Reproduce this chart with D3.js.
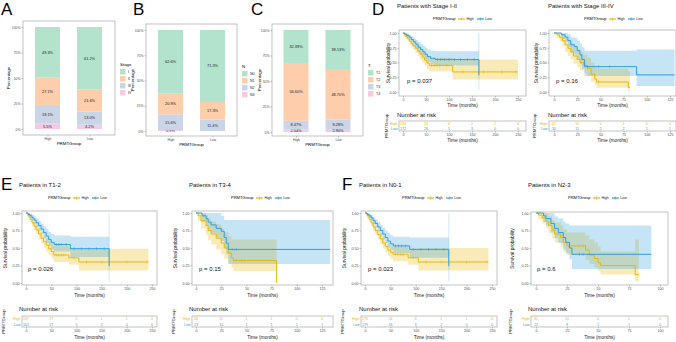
<!DOCTYPE html>
<html>
<head>
<meta charset="utf-8">
<script src="https://cdn.jsdelivr.net/npm/d3@7"></script>
<style>
  body { margin: 0; background: #fff; }
  text { font-family: "Liberation Sans", Arial, sans-serif; }
</style>
</head>
<body>
<div id="chart"></div>
<script>
// ---- data ----
const groups = ['High', 'Low'];
const groupColors = ['#E7B800', '#2E9FDF'];
const pastel = ['#B3E2CD', '#FDCDAC', '#CBD5E8', '#F4CAE4'];

// panel A
const stageLevels = ['I', 'II', 'III', 'IV'];
const stageHigh = [49.3, 27.1, 18.1, 5.5];
const stageLow = [61.2, 21.6, 13.0, 4.2];
// panel B
const nLevels = ['N0', 'N1', 'N2', 'N3'];
const bHigh = [62.6, 20.9, 15.6, 0.9];
const bLow = [71.3, 17.3, 11.4, 0];
// panel C
const tLevels = ['T1', 'T2', 'T3', 'T4'];
const cHigh = [32.39, 56.60, 8.47, 2.54];
const cLow = [39.13, 48.70, 9.28, 2.90];

const pctTicks = [0, 25, 50, 75, 100];
const survTicks = [0, 0.25, 0.5, 0.75, 1];
const longTicks = [0, 50, 100, 150, 200, 250];
const ticks125 = [0, 25, 50, 75, 100, 125];
const ticks100 = [0, 25, 50, 75, 100];

// KM steps: [time, survival, lower, upper]
const d1High = [[0,1,1,1],[3,.97,.94,1],[6,.94,.9,.98],[10,.9,.85,.95],[14,.86,.8,.92],[18,.82,.76,.89],[22,.78,.71,.86],[27,.74,.66,.82],[32,.69,.61,.78],[37,.64,.55,.74],[42,.59,.5,.7],[47,.54,.45,.66],[52,.49,.39,.61],[57,.45,.35,.58],[108,.34,.21,.55]];
const d1HighEnd = 250;
const d1HighCens = [62, 68, 74, 80, 95, 130, 175, 215, 245];
const d1Low = [[0,1,1,1],[4,.98,.96,1],[8,.96,.93,.99],[13,.93,.89,.97],[18,.89,.84,.94],[23,.85,.79,.91],[28,.81,.74,.88],[33,.76,.69,.85],[38,.72,.64,.81],[43,.68,.6,.78],[48,.64,.55,.75],[53,.6,.51,.72],[60,.57,.47,.7],[70,.55,.45,.69],[165,.28,.03,1]];
const d1LowEnd = 165;
const d1LowCens = [75, 82, 90, 100, 112, 125, 140, 155];

const d2High = [[0,1,1,1],[3,.97,.91,1],[6,.93,.85,1],[9,.87,.77,.98],[12,.8,.68,.93],[15,.74,.61,.89],[18,.68,.55,.84],[21,.61,.48,.78],[25,.55,.42,.73],[28,.5,.37,.68],[32,.45,.32,.63],[36,.4,.27,.58],[40,.3,.18,.5],[44,.22,.12,.43],[46,.17,.07,.4],[80,.08,.01,.35]];
const d2HighEnd = 82;
const d2HighCens = [34, 48];
const d2Low = [[0,1,1,1],[8,.97,.9,1],[12,.93,.85,1],[15,.87,.76,.98],[18,.8,.67,.93],[22,.77,.63,.92],[25,.7,.55,.87],[28,.63,.47,.82],[30,.55,.39,.76],[33,.43,.27,.7],[89,.29,.1,.72]];
const d2LowEnd = 130;
const d2LowCens = [36, 48, 60];

const e1High = [[0,1,1,1],[4,.96,.93,.99],[8,.91,.87,.95],[12,.86,.81,.91],[16,.81,.75,.87],[20,.76,.7,.83],[25,.7,.63,.78],[30,.64,.56,.73],[35,.59,.5,.68],[40,.54,.45,.64],[45,.49,.4,.6],[50,.45,.35,.56],[55,.4,.3,.53],[85,.36,.26,.5],[105,.3,.18,.49]];
const e1HighEnd = 243;
const e1HighCens = [60, 65, 70, 75, 95, 120, 150, 200, 240];
const e1Low = [[0,1,1,1],[4,.98,.96,1],[8,.96,.93,.99],[12,.93,.89,.97],[16,.9,.85,.95],[20,.86,.8,.92],[25,.82,.75,.89],[30,.77,.7,.85],[35,.72,.64,.81],[40,.67,.58,.77],[45,.62,.53,.73],[50,.58,.48,.7],[56,.55,.45,.68],[88,.49,.37,.66],[165,.24,.02,1]];
const e1LowEnd = 165;
const e1LowCens = [60, 65, 70, 80, 95, 110, 125, 140, 155];

const e2High = [[0,1,1,1],[2,.96,.89,1],[5,.89,.78,1],[10,.82,.69,.97],[12,.75,.61,.92],[15,.7,.55,.88],[20,.64,.48,.84],[25,.57,.41,.78],[28,.5,.35,.73],[32,.43,.28,.67],[35,.36,.22,.62],[37,.32,.17,.62],[80,0,0,0]];
const e2HighEnd = 80;
const e2HighCens = [40, 45, 48];
const e2Low = [[0,1,1,1],[6,.96,.88,1],[10,.92,.82,1],[12,.87,.76,1],[15,.83,.71,1],[20,.78,.65,1],[25,.74,.6,.96],[28,.65,.5,.9],[30,.57,.41,.9],[32,.48,.27,.9]];
const e2LowEnd = 133;
const e2LowCens = [36, 40];

const f1High = [[0,1,1,1],[4,.96,.93,.99],[8,.91,.87,.95],[12,.86,.81,.91],[16,.8,.74,.86],[20,.75,.69,.81],[25,.69,.62,.76],[30,.63,.56,.71],[35,.57,.49,.66],[40,.52,.44,.61],[45,.47,.39,.57],[50,.44,.35,.54],[55,.41,.31,.52],[85,.36,.26,.49],[105,.3,.18,.5]];
const f1HighEnd = 243;
const f1HighCens = [60, 65, 70, 75, 95, 120, 150, 200, 240];
const f1Low = [[0,1,1,1],[4,.98,.96,1],[8,.96,.93,.99],[12,.93,.89,.97],[16,.89,.84,.94],[20,.85,.79,.91],[25,.8,.74,.87],[30,.75,.68,.83],[35,.7,.62,.79],[40,.65,.57,.75],[45,.6,.51,.71],[50,.56,.47,.68],[56,.53,.43,.66],[88,.48,.36,.65],[165,.24,.02,1]];
const f1LowEnd = 165;
const f1LowCens = [60, 66, 72, 80, 95, 110, 125, 140, 155];

const f2High = [[0,1,1,1],[2,.97,.91,1],[5,.93,.85,1],[8,.88,.78,.99],[10,.82,.71,.95],[13,.76,.64,.9],[15,.7,.58,.86],[20,.65,.52,.82],[22,.58,.45,.76],[25,.53,.4,.72],[40,.47,.33,.68],[43,.4,.27,.62],[47,.35,.22,.58],[50,.29,.17,.52],[52,.25,.12,.45],[80,.12,.03,.62]];
const f2HighEnd = 83;
const f2HighCens = [35, 38];
const f2Low = [[0,1,1,1],[6,.96,.87,1],[8,.92,.82,1],[12,.85,.72,1],[15,.78,.64,.95],[18,.72,.57,.92],[22,.65,.49,.88],[24,.58,.42,.85],[27,.5,.34,.82],[29,.41,.2,.82]];
const f2LowEnd = 93;
const f2LowCens = [35, 38];

// numbers at risk
const d1RiskHigh = [134, 24, 6, 1, 1, 0], d1RiskLow = [172, 26, 5, 3, 0, 0];
const d2RiskHigh = [31, 10, 1, 1, 0, 0], d2RiskLow = [30, 11, 2, 2, 1, 1];
const e1RiskHigh = [167, 27, 5, 1, 1, 0], e1RiskLow = [162, 27, 5, 2, 0, 0];
const e2RiskHigh = [28, 11, 1, 1, 0, 0], e2RiskLow = [23, 10, 1, 1, 1, 1];
const f1RiskHigh = [176, 24, 6, 1, 1, 0], f1RiskLow = [179, 26, 6, 2, 0, 0];
const f2RiskHigh = [35, 14, 4, 2, 0], f2RiskLow = [22, 8, 1, 1, 0];

// ---- drawing ----
const W = 676, H = 342;
const svg = d3.select('#chart').append('svg')
    .attr('width', W).attr('height', H)
    .style('display', 'block').style('background', '#fff');

const TICK_GREY = '#4d4d4d';
const BOX_GREY = '#b3b3b3';

function panelLetter(txt, x, y) {
    svg.append('text').attr('x', x).attr('y', y)
        .attr('font-size', 17).attr('fill', '#000').text(txt);
}

function drawBars(cfg) {
    const g = svg.append('g');
    const x = d3.scalePoint().domain(groups).range(cfg.centers);
    const y = d3.scaleLinear().domain([0, 100]).range([cfg.y0, cfg.y100]);

    g.append('rect')
        .attr('x', cfg.box[0]).attr('y', cfg.box[2])
        .attr('width', cfg.box[1] - cfg.box[0]).attr('height', cfg.box[3] - cfg.box[2])
        .attr('fill', '#fff').attr('stroke', BOX_GREY).attr('stroke-width', 0.8);

    const rows = groups.map((grp, i) => {
        const row = { group: grp };
        cfg.levels.forEach((lv, j) => { row[lv] = cfg.values[i][j]; });
        return row;
    });
    // first level sits on top like ggplot's stacking
    const stack = d3.stack().keys(cfg.levels.slice().reverse())(rows);

    stack.forEach(layer => {
        const li = cfg.levels.indexOf(layer.key);
        layer.forEach(seg => {
            const grp = seg.data.group;
            g.append('rect')
                .attr('x', x(grp) - cfg.barW / 2)
                .attr('y', y(seg[1]))
                .attr('width', cfg.barW)
                .attr('height', Math.max(0, y(seg[0]) - y(seg[1])))
                .attr('fill', pastel[li]);
            const v = seg.data[layer.key];
            if (v > 0) {
                g.append('text')
                    .attr('x', x(grp)).attr('y', y((seg[0] + seg[1]) / 2) + 1.4)
                    .attr('text-anchor', 'middle').attr('font-size', 3.9).attr('fill', '#222')
                    .text(v.toFixed(cfg.decimals) + '%');
            }
        });
    });

    const yAxis = g.append('g').attr('transform', `translate(${cfg.box[0]},0)`)
        .call(d3.axisLeft(y).tickValues(pctTicks).tickFormat(d => d + '%').tickSize(1.5));
    const xAxis = g.append('g').attr('transform', `translate(0,${cfg.box[3]})`)
        .call(d3.axisBottom(x).tickSize(1.5));
    [yAxis, xAxis].forEach(a => {
        a.select('.domain').remove();
        a.selectAll('line').attr('stroke', '#888').attr('stroke-width', 0.5);
        a.selectAll('text').attr('font-size', 3.4).attr('fill', TICK_GREY)
            .attr('font-family', '"Liberation Sans", Arial, sans-serif');
    });
    yAxis.selectAll('text').attr('x', -2.5).attr('dy', '0.35em');
    xAxis.selectAll('text').attr('y', 3).attr('dy', '0.7em');

    g.append('text')
        .attr('transform', `translate(${cfg.ylabX},${(cfg.box[2] + cfg.box[3]) / 2}) rotate(-90)`)
        .attr('text-anchor', 'middle').attr('font-size', 4.4).text('Percentage');
    g.append('text')
        .attr('x', (cfg.box[0] + cfg.box[1]) / 2).attr('y', cfg.box[3] + 9.5)
        .attr('text-anchor', 'middle').attr('font-size', 4.4).text('PRMTGroup');

    // legend
    const lg = svg.append('g').attr('transform', `translate(${cfg.legend[0]},${cfg.legend[1]})`);
    lg.append('text').attr('x', 0).attr('y', 0).attr('font-size', 4.4).text(cfg.legendTitle);
    cfg.levels.forEach((lv, j) => {
        lg.append('rect').attr('x', 0).attr('y', 3 + j * 7).attr('width', 5.5).attr('height', 5.5)
            .attr('fill', pastel[j]);
        lg.append('text').attr('x', 8).attr('y', 7.2 + j * 7).attr('font-size', 3.6)
            .attr('fill', '#222').text(lv);
    });
}

function survAt(steps, t) {
    let s = steps[0][1];
    steps.forEach(d => { if (d[0] <= t) s = d[1]; });
    return s;
}

function drawKm(cfg) {
    const g = svg.append('g');
    const xMax = cfg.xTicks[cfg.xTicks.length - 1];
    const x = d3.scaleLinear().domain([0, xMax]).range([cfg.x0, cfg.xEnd]);
    const y = d3.scaleLinear().domain([0, 1]).range([cfg.y0, cfg.y1]);
    const [L, R, T, B] = cfg.box;

    g.append('text').attr('x', cfg.title[0]).attr('y', cfg.title[1])
        .attr('font-size', 6).attr('fill', '#111').text(cfg.titleText);

    // legend
    const lg = g.append('g').attr('transform', `translate(${cfg.legendX},${cfg.legendY})`);
    const lt = lg.append('text').attr('x', 0).attr('y', 1.4).attr('font-size', 4).text('PRMTGroup');
    let lx = lt.node().getComputedTextLength() + 2.5;
    groups.forEach((grp, i) => {
        lg.append('line').attr('x1', lx).attr('x2', lx + 7).attr('y1', 0).attr('y2', 0)
            .attr('stroke', groupColors[i]).attr('stroke-width', 1.2);
        lg.append('line').attr('x1', lx + 3.5).attr('x2', lx + 3.5).attr('y1', -1.6).attr('y2', 1.6)
            .attr('stroke', groupColors[i]).attr('stroke-width', 0.6);
        const t = lg.append('text').attr('x', lx + 8.5).attr('y', 1.4).attr('font-size', 3.6)
            .attr('fill', '#222').text(grp);
        lx += 8.5 + t.node().getComputedTextLength() + 3;
    });

    g.append('rect').attr('x', L).attr('y', T).attr('width', R - L).attr('height', B - T)
        .attr('fill', '#fff').attr('stroke', BOX_GREY).attr('stroke-width', 0.8);

    const clip = 'clip-' + cfg.id;
    g.append('clipPath').attr('id', clip).append('rect')
        .attr('x', L).attr('y', T).attr('width', R - L).attr('height', B - T);
    const plot = g.append('g').attr('clip-path', `url(#${clip})`);

    const area = d3.area().curve(d3.curveStepAfter)
        .x(d => x(d[0])).y0(d => y(d[2])).y1(d => y(d[3]));
    const line = d3.line().curve(d3.curveStepAfter)
        .x(d => x(d[0])).y(d => y(d[1]));

    cfg.curves.forEach((c, i) => {
        const last = c.steps[c.steps.length - 1];
        const pts = c.steps.concat([[c.end, last[1], last[2], last[3]]]);
        plot.append('path').attr('d', area(pts))
            .attr('fill', groupColors[i]).attr('fill-opacity', 0.28);
        if (c.end === last[0] && last[3] > last[2]) {
            plot.append('line').attr('x1', x(last[0])).attr('x2', x(last[0]))
                .attr('y1', y(last[2])).attr('y2', y(last[3]))
                .attr('stroke', groupColors[i]).attr('stroke-opacity', 0.4).attr('stroke-width', 0.6);
        }
    });
    cfg.curves.forEach((c, i) => {
        const last = c.steps[c.steps.length - 1];
        const pts = c.steps.concat([[c.end, last[1], last[2], last[3]]]);
        plot.append('path').attr('d', line(pts))
            .attr('fill', 'none').attr('stroke', groupColors[i]).attr('stroke-width', 1);
        c.cens.forEach(t => {
            const cx = x(t), cy = y(survAt(c.steps, t));
            plot.append('line').attr('x1', cx).attr('x2', cx).attr('y1', cy - 1.5).attr('y2', cy + 1.5)
                .attr('stroke', groupColors[i]).attr('stroke-width', 0.5);
        });
    });

    const yAxis = g.append('g').attr('transform', `translate(${L},0)`)
        .call(d3.axisLeft(y).tickValues(survTicks).tickFormat(d3.format('.2f')).tickSize(1.5));
    const xAxis = g.append('g').attr('transform', `translate(0,${B})`)
        .call(d3.axisBottom(x).tickValues(cfg.xTicks).tickSize(1.5));
    [yAxis, xAxis].forEach(a => {
        a.select('.domain').remove();
        a.selectAll('line').attr('stroke', '#888').attr('stroke-width', 0.5);
        a.selectAll('text').attr('font-size', 3.6).attr('fill', TICK_GREY)
            .attr('font-family', '"Liberation Sans", Arial, sans-serif');
    });
    yAxis.selectAll('text').attr('x', -2.5).attr('dy', '0.35em');
    xAxis.selectAll('text').attr('y', 2.5).attr('dy', '0.7em');

    g.append('text')
        .attr('transform', `translate(${cfg.ylabX},${(T + B) / 2}) rotate(-90)`)
        .attr('text-anchor', 'middle').attr('font-size', 4.8).attr('fill', '#222')
        .text('Survival probability');
    g.append('text').attr('x', (L + R) / 2).attr('y', B + cfg.timeGap)
        .attr('text-anchor', 'middle').attr('font-size', 4.8).attr('fill', '#222')
        .text('Time (months)');
    g.append('text').attr('x', cfg.pPos[0]).attr('y', cfg.pPos[1])
        .attr('font-size', 6).attr('fill', '#111').text('p = ' + cfg.p);

    // risk table
    const [tT, tB] = cfg.table;
    g.append('text').attr('x', cfg.title[0]).attr('y', cfg.riskTitleY)
        .attr('font-size', 6).attr('fill', '#111').text('Number at risk');
    g.append('rect').attr('x', L).attr('y', tT).attr('width', R - L).attr('height', tB - tT)
        .attr('fill', '#fff').attr('stroke', BOX_GREY).attr('stroke-width', 0.8);
    const rowY = d3.scalePoint().domain(groups).range([tT + 3, tB - 2.5]);
    const risks = [cfg.riskHigh, cfg.riskLow];
    groups.forEach((grp, i) => {
        g.append('text').attr('x', L - 1.5).attr('y', rowY(grp) + 1.3)
            .attr('text-anchor', 'end').attr('font-size', 3.6).attr('fill', groupColors[i]).text(grp);
        g.selectAll(null).data(cfg.xTicks).enter().append('text')
            .attr('x', d => x(d)).attr('y', rowY(grp) + 1.3)
            .attr('text-anchor', 'middle').attr('font-size', 3.6).attr('fill', groupColors[i])
            .text((d, k) => risks[i][k]);
    });
    const tAxis = g.append('g').attr('transform', `translate(0,${tB})`)
        .call(d3.axisBottom(x).tickValues(cfg.xTicks).tickSize(1.5));
    tAxis.select('.domain').remove();
    tAxis.selectAll('line').attr('stroke', '#888').attr('stroke-width', 0.5);
    tAxis.selectAll('text').attr('font-size', 3.6).attr('fill', TICK_GREY).attr('y', 2.5).attr('dy', '0.7em')
        .attr('font-family', '"Liberation Sans", Arial, sans-serif');
    g.append('text').attr('x', (L + R) / 2).attr('y', tB + cfg.timeGap)
        .attr('text-anchor', 'middle').attr('font-size', 4.8).attr('fill', '#222')
        .text('Time (months)');
    g.append('text')
        .attr('transform', `translate(${cfg.ylabX - 2},${(tT + tB) / 2}) rotate(-90)`)
        .attr('text-anchor', 'middle').attr('font-size', 4.4).attr('fill', '#222')
        .text('PRMTGroup');
}

// ---- panels ----
panelLetter('A', 1, 15);
panelLetter('B', 133, 15);
panelLetter('C', 251, 15);
panelLetter('D', 372, 15);
panelLetter('E', 1, 190);
panelLetter('F', 342, 190);

drawBars({ levels: stageLevels, values: [stageHigh, stageLow], decimals: 1,
    box: [23, 115, 21, 135], centers: [47.5, 89.5], barW: 25, y0: 129, y100: 27,
    ylabX: 10, legend: [120, 66], legendTitle: 'Stage' });
drawBars({ levels: nLevels, values: [bHigh, bLow], decimals: 1,
    box: [146, 237, 24, 136], centers: [170.5, 212.5], barW: 25, y0: 131, y100: 30,
    ylabX: 134, legend: [242, 68], legendTitle: 'N' });
drawBars({ levels: tLevels, values: [cHigh, cLow], decimals: 2,
    box: [272, 363, 24, 136], centers: [296, 338], barW: 25, y0: 132, y100: 30,
    ylabX: 261, legend: [368, 67], legendTitle: 'T' });

const topRow = { y0: 92, y1: 33, legendY: 19, timeGap: 11, table: [121, 131], riskTitleY: 117 };
const botRow = { y0: 283, y1: 213, legendY: 198, timeGap: 12, table: [316, 327], riskTitleY: 311 };

drawKm(Object.assign({}, topRow, { id: 'd1', titleText: 'Patients with Stage I-II', title: [397, 8],
    legendX: 433, box: [399, 526, 30, 96], x0: 403, xEnd: 518, xTicks: longTicks,
    ylabX: 390, pPos: [407, 83], p: '0.037',
    curves: [{ steps: d1High, end: d1HighEnd, cens: d1HighCens }, { steps: d1Low, end: d1LowEnd, cens: d1LowCens }],
    riskHigh: d1RiskHigh, riskLow: d1RiskLow }));
drawKm(Object.assign({}, topRow, { id: 'd2', titleText: 'Patients with Stage III-IV', title: [548, 8],
    legendX: 584, box: [549, 676, 30, 96], x0: 554, xEnd: 670, xTicks: ticks125,
    ylabX: 538, pPos: [556, 83], p: '0.16',
    curves: [{ steps: d2High, end: d2HighEnd, cens: d2HighCens }, { steps: d2Low, end: d2LowEnd, cens: d2LowCens }],
    riskHigh: d2RiskHigh, riskLow: d2RiskLow }));
drawKm(Object.assign({}, botRow, { id: 'e1', titleText: 'Patients in T1-2', title: [19, 187],
    legendX: 48, box: [22, 157, 211, 285], x0: 26, xEnd: 152, xTicks: longTicks,
    ylabX: 7, pPos: [28, 271], p: '0.026',
    curves: [{ steps: e1High, end: e1HighEnd, cens: e1HighCens }, { steps: e1Low, end: e1LowEnd, cens: e1LowCens }],
    riskHigh: e1RiskHigh, riskLow: e1RiskLow }));
drawKm(Object.assign({}, botRow, { id: 'e2', titleText: 'Patients in T3-4', title: [189, 187],
    legendX: 231, box: [192, 333, 211, 285], x0: 196, xEnd: 322, xTicks: ticks125,
    ylabX: 177, pPos: [199, 271], p: '0.15',
    curves: [{ steps: e2High, end: e2HighEnd, cens: e2HighCens }, { steps: e2Low, end: e2LowEnd, cens: e2LowCens }],
    riskHigh: e2RiskHigh, riskLow: e2RiskLow }));
drawKm(Object.assign({}, botRow, { id: 'f1', titleText: 'Patients in N0-1', title: [359, 187],
    legendX: 402, box: [361, 497, 211, 285], x0: 365, xEnd: 492, xTicks: longTicks,
    ylabX: 346, pPos: [368, 271], p: '0.023',
    curves: [{ steps: f1High, end: f1HighEnd, cens: f1HighCens }, { steps: f1Low, end: f1LowEnd, cens: f1LowCens }],
    riskHigh: f1RiskHigh, riskLow: f1RiskLow }));
drawKm(Object.assign({}, botRow, { id: 'f2', titleText: 'Patients in N2-3', title: [528, 187],
    legendX: 568, box: [531, 668, 212, 285], x0: 536, xEnd: 660, xTicks: ticks100,
    ylabX: 514, pPos: [537, 271], p: '0.6',
    curves: [{ steps: f2High, end: f2HighEnd, cens: f2HighCens }, { steps: f2Low, end: f2LowEnd, cens: f2LowCens }],
    riskHigh: f2RiskHigh, riskLow: f2RiskLow }));
</script>
</body>
</html>
